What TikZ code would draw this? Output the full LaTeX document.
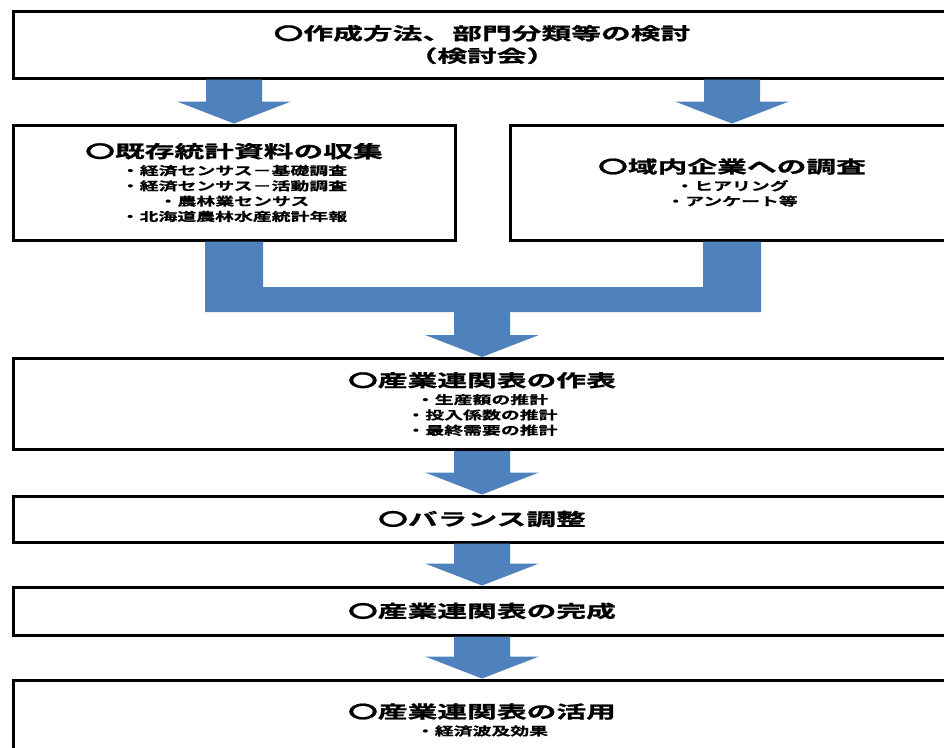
\documentclass[tikz,border=0pt]{standalone}
\usepackage{fontspec}
\usetikzlibrary{calc}

\newfontfamily\jphead[FakeStretch=1.72,FakeBold=1.2]{Noto Sans CJK JP Bold}
\newfontfamily\jpitem[FakeStretch=1.6,FakeBold=0.8]{Noto Sans CJK JP Bold}
\newcommand\titlefont{\jphead\fontsize{17.3}{22.5}\selectfont}
\newcommand\itemfont{\jpitem\fontsize{11.8}{15.3}\selectfont}

\definecolor{arrowblue}{HTML}{4F81BD}

\tikzset{
  box/.style={draw=black, line width=3pt, inner sep=0pt, align=center, font=\itemfont},
  blockfill/.style={fill=arrowblue},
}

% block arrow pointing down, from #1 to #2
\newcommand\blockarrow[2]{%
  \fill[blockfill] let \p1=(#1), \p2=(#2) in
    (\x1-28pt,\y1) -- (\x1+28pt,\y1) -- (\x1+28pt,\y2+22pt) -- (\x1+57pt,\y2+22pt)
    -- (\x1,\y2) -- (\x1-57pt,\y2+22pt) -- (\x1-28pt,\y2+22pt) -- cycle;}

\begin{document}
\begin{tikzpicture}[x=1pt,y=-1pt]

  \useasboundingbox (0,0) rectangle (944,747);
  \clip (0,0) rectangle (944,747);

  % 枠
  \node[box, font=\titlefont, minimum width=938pt, minimum height=67pt] (plan) at (482,44.5)
    {〇作成方法、部門分類等の検討\\ （検討会）};

  \node[box, minimum width=442pt, minimum height=115pt] (src) at (234,182.5)
    {\titlefont 〇既存統計資料の収集\\[2pt]
     ・経済センサス－基礎調査\\ ・経済センサス－活動調査\\
     ・農林業センサス\\ ・北海道農林水産統計年報};

  \node[box, minimum width=444pt, minimum height=115pt] (svy) at (732,182.5)
    {\titlefont 〇域内企業への調査\\[2pt]
     ・ヒアリング\\ ・アンケート等};

  \node[box, minimum width=938pt, minimum height=91pt] (tbl) at (482,404)
    {\titlefont 〇産業連関表の作表\\[2pt]
     ・生産額の推計\\ ・投入係数の推計\\ ・最終需要の推計};

  \node[box, font=\titlefont, minimum width=938pt, minimum height=46pt] (bal) at (482,519)
    {〇バランス調整};

  \node[box, font=\titlefont, minimum width=938pt, minimum height=48pt] (fin) at (482,611)
    {〇産業連関表の完成};

  \node[box, minimum width=938pt, minimum height=80pt] (app) at (482,720)
    {\titlefont 〇産業連関表の活用\\[2pt] ・経済波及効果};

  % 矢印
  \blockarrow{plan.south -| src.north}{src.north}
  \blockarrow{plan.south -| svy.north}{svy.north}

  \coordinate (join) at (482,312);
  \fill[blockfill] let \p1=(src.south), \p2=(svy.south), \p3=(join) in
    (\x1-29pt,\y1) -- (\x1-29pt,\y3) -- (\x2+29pt,\y3) -- (\x2+29pt,\y1)
    -- (\x2-29pt,\y1) -- (\x2-29pt,\y3+25pt) -- (\x1+29pt,\y3+25pt) -- (\x1+29pt,\y1) -- cycle;
  \blockarrow{join}{tbl.north}

  \blockarrow{tbl.south}{bal.north}
  \blockarrow{bal.south}{fin.north}
  \blockarrow{fin.south}{app.north}

\end{tikzpicture}
\end{document}
